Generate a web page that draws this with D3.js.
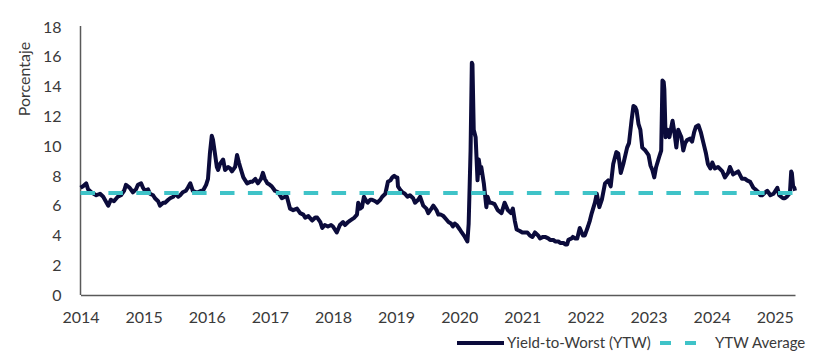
<!DOCTYPE html>
<html>
<head>
<meta charset="utf-8">
<script src="https://cdn.jsdelivr.net/npm/d3@7"></script>
<style>
  body { margin: 0; background: #fff; }
  text { font-family: Lato, "Open Sans", sans-serif; fill: #3a3a3a; }
</style>
</head>
<body>
<svg id="chart"></svg>
<script>
// fractional year of each observation
var ytwYears = [
  2014.00, 2014.04, 2014.09, 2014.12, 2014.17, 2014.25, 2014.31, 2014.36, 2014.40, 2014.44,
  2014.48, 2014.53, 2014.59, 2014.64, 2014.69, 2014.72, 2014.78, 2014.83, 2014.88, 2014.91,
  2014.96, 2014.99, 2015.02, 2015.07, 2015.10, 2015.15, 2015.18, 2015.23, 2015.26, 2015.31,
  2015.34, 2015.39, 2015.42, 2015.47, 2015.50, 2015.55, 2015.58, 2015.62, 2015.67, 2015.70,
  2015.74, 2015.78, 2015.83, 2015.86, 2015.91, 2015.94, 2015.99, 2016.02, 2016.05, 2016.08,
  2016.10, 2016.13, 2016.16, 2016.18, 2016.21, 2016.26, 2016.29, 2016.34, 2016.37, 2016.40,
  2016.45, 2016.48, 2016.51, 2016.53, 2016.58, 2016.61, 2016.64, 2016.69, 2016.72, 2016.77,
  2016.81, 2016.86, 2016.89, 2016.92, 2016.96, 2017.00, 2017.03, 2017.08, 2017.13, 2017.16,
  2017.19, 2017.24, 2017.27, 2017.32, 2017.37, 2017.43, 2017.48, 2017.53, 2017.56, 2017.61,
  2017.67, 2017.72, 2017.75, 2017.80, 2017.83, 2017.87, 2017.92, 2017.97, 2018.00, 2018.03,
  2018.06, 2018.11, 2018.16, 2018.19, 2018.24, 2018.27, 2018.34, 2018.38, 2018.40, 2018.43,
  2018.46, 2018.49, 2018.53, 2018.55, 2018.59, 2018.62, 2018.67, 2018.70, 2018.75, 2018.78,
  2018.83, 2018.87, 2018.91, 2018.94, 2018.97, 2019.00, 2019.02, 2019.03, 2019.06, 2019.10,
  2019.14, 2019.18, 2019.22, 2019.27, 2019.30, 2019.35, 2019.38, 2019.43, 2019.48, 2019.51,
  2019.56, 2019.59, 2019.64, 2019.67, 2019.71, 2019.75, 2019.79, 2019.83, 2019.87, 2019.90,
  2019.93, 2019.96, 2020.01, 2020.04, 2020.09, 2020.13, 2020.15, 2020.18, 2020.20, 2020.21,
  2020.23, 2020.26, 2020.29, 2020.31, 2020.34, 2020.35, 2020.39, 2020.43, 2020.45, 2020.48,
  2020.51, 2020.56, 2020.61, 2020.64, 2020.67, 2020.72, 2020.77, 2020.82, 2020.85, 2020.88,
  2020.91, 2020.96, 2021.00, 2021.04, 2021.08, 2021.12, 2021.16, 2021.20, 2021.25, 2021.28,
  2021.33, 2021.36, 2021.41, 2021.44, 2021.49, 2021.52, 2021.57, 2021.60, 2021.65, 2021.68,
  2021.71, 2021.73, 2021.78, 2021.80, 2021.84, 2021.87, 2021.91, 2021.96, 2021.99, 2022.04,
  2022.07, 2022.10, 2022.15, 2022.18, 2022.22, 2022.26, 2022.31, 2022.36, 2022.40, 2022.44,
  2022.49, 2022.52, 2022.56, 2022.60, 2022.66, 2022.69, 2022.73, 2022.76, 2022.79, 2022.81,
  2022.84, 2022.87, 2022.90, 2022.95, 2023.00, 2023.03, 2023.06, 2023.09, 2023.12, 2023.17,
  2023.20, 2023.22, 2023.24, 2023.25, 2023.27, 2023.30, 2023.33, 2023.38, 2023.41, 2023.44,
  2023.47, 2023.52, 2023.55, 2023.58, 2023.61, 2023.66, 2023.69, 2023.72, 2023.75, 2023.79,
  2023.83, 2023.87, 2023.91, 2023.94, 2023.98, 2024.01, 2024.05, 2024.10, 2024.17, 2024.21,
  2024.26, 2024.29, 2024.34, 2024.42, 2024.48, 2024.53, 2024.56, 2024.61, 2024.66, 2024.69,
  2024.74, 2024.77, 2024.80, 2024.85, 2024.88, 2024.93, 2024.98, 2025.01, 2025.04, 2025.07,
  2025.10, 2025.13, 2025.16, 2025.19, 2025.23, 2025.24, 2025.26, 2025.27, 2025.29, 2025.31,
  2025.32
];

// yield-to-worst, %
var ytwValues = [
  7.2, 7.3, 7.5, 7.1, 6.9, 6.7, 6.8, 6.6, 6.3, 6.0,
  6.4, 6.3, 6.6, 6.7, 7.0, 7.4, 7.2, 6.9, 7.1, 7.4,
  7.5, 7.2, 7.0, 7.1, 6.8, 6.7, 6.5, 6.3, 6.0, 6.2,
  6.2, 6.4, 6.5, 6.6, 6.8, 6.6, 6.7, 6.9, 7.0, 7.2,
  7.5, 7.0, 6.9, 6.9, 7.0, 7.0, 7.4, 7.8, 9.5, 10.7,
  10.4, 9.5, 8.6, 8.4, 8.8, 9.1, 8.4, 8.6, 8.5, 8.3,
  8.6, 9.4, 8.9, 8.6, 7.9, 7.7, 7.5, 7.6, 7.6, 7.8,
  7.5, 7.8, 8.2, 7.8, 7.5, 7.4, 7.3, 7.0, 6.9, 6.7,
  6.5, 6.6, 6.6, 5.8, 5.7, 5.8, 5.5, 5.4, 5.2, 5.3,
  5.0, 5.2, 5.2, 4.9, 4.5, 4.7, 4.6, 4.7, 4.6, 4.4,
  4.2, 4.7, 4.9, 4.7, 4.9, 5.0, 5.2, 5.4, 6.2, 5.8,
  5.9, 6.6, 6.3, 6.2, 6.4, 6.4, 6.3, 6.2, 6.4, 6.6,
  6.8, 7.6, 7.7, 7.9, 8.0, 7.9, 7.9, 7.3, 7.1, 6.9,
  6.8, 6.6, 6.7, 6.5, 6.2, 6.4, 6.6, 6.0, 5.8, 5.5,
  5.8, 6.0, 5.7, 5.4, 5.4, 5.3, 5.1, 4.9, 4.8, 4.6,
  4.8, 4.7, 4.4, 4.2, 3.9, 3.6, 4.8, 9.7, 15.6, 15.5,
  11.1, 10.6, 7.7, 9.1, 8.2, 8.6, 7.5, 5.9, 6.6, 6.2,
  6.2, 6.1, 5.7, 5.6, 5.5, 6.2, 5.7, 5.5, 5.8, 5.0,
  4.4, 4.3, 4.2, 4.2, 4.2, 4.0, 3.9, 4.2, 4.0, 3.8,
  3.9, 3.9, 3.8, 3.7, 3.7, 3.6, 3.6, 3.5, 3.5, 3.4,
  3.4, 3.7, 3.8, 3.9, 3.8, 3.8, 4.5, 4.0, 4.0, 4.6,
  5.0, 5.5, 6.2, 6.8, 5.9, 6.4, 7.5, 7.7, 7.3, 8.8,
  9.6, 9.5, 8.2, 8.8, 9.9, 10.2, 11.7, 12.7, 12.6, 12.4,
  11.5, 11.1, 9.9, 9.7, 9.4, 8.7, 8.4, 7.9, 8.6, 9.3,
  9.7, 14.4, 14.3, 13.8, 10.6, 11.1, 10.6, 11.7, 10.9, 9.9,
  11.1, 10.6, 9.7, 10.2, 10.4, 10.5, 10.3, 10.9, 11.3, 11.4,
  10.9, 10.2, 9.5, 8.8, 8.5, 8.9, 8.5, 8.6, 8.3, 7.9,
  8.2, 8.6, 8.1, 8.3, 7.8, 7.8, 7.7, 7.6, 7.2, 7.1,
  6.9, 6.7, 6.7, 6.9, 7.0, 6.7, 6.8, 7.0, 7.2, 6.7,
  6.6, 6.5, 6.5, 6.6, 6.8, 6.9, 8.3, 8.2, 7.3, 7.2,
  7.0
];

var ytwAverage = 6.85;
var yTicks = [0, 2, 4, 6, 8, 10, 12, 14, 16, 18];
var xTickYears = [2014, 2015, 2016, 2017, 2018, 2019, 2020, 2021, 2022, 2023, 2024, 2025];
var seriesNames = ["Yield-to-Worst (YTW)", "YTW Average"];

var width = 825, height = 362;
var navy = "#0b0b3b", teal = "#3fc3c8";

var svg = d3.select("#chart").attr("width", width).attr("height", height);

var x = d3.scaleLinear().domain([2014, 2025.32]).range([80.5, 795]);
var y = d3.scaleLinear().domain([0, 18]).range([295, 27]);

// y axis: line plus labels, no ticks
var yAxis = svg.append("g")
  .attr("transform", "translate(80.5,0)")
  .call(d3.axisLeft(y).tickValues(yTicks).tickSize(0).tickPadding(19));
yAxis.select(".domain").attr("stroke", "#595959").attr("stroke-width", 1.5).attr("d", "M0,26V295");
yAxis.selectAll("text").style("font-size", "16px").style("font-family", "Lato, sans-serif").attr("fill", "#3a3a3a");

// x axis
var xAxis = svg.append("g")
  .attr("transform", "translate(0,295)")
  .call(d3.axisBottom(x).tickValues(xTickYears).tickFormat(d3.format("d")).tickSize(0).tickPadding(17));
xAxis.select(".domain").attr("stroke", "#595959").attr("stroke-width", 1.5);
xAxis.selectAll("text").style("font-size", "16px").style("font-family", "Lato, sans-serif").attr("fill", "#3a3a3a");

svg.append("text")
  .attr("transform", "translate(30,79) rotate(-90)")
  .attr("text-anchor", "middle")
  .style("font-size", "16px")
  .text("Porcentaje");

var data = ytwYears.map(function (t, i) { return [t, ytwValues[i]]; });

svg.append("path")
  .datum(data)
  .attr("fill", "none")
  .attr("stroke", navy)
  .attr("stroke-width", 4)
  .attr("stroke-linejoin", "round")
  .attr("d", d3.line().x(function (d) { return x(d[0]); }).y(function (d) { return y(d[1]); }));

// average drawn on top of the series
svg.append("line")
  .attr("x1", x(2014)).attr("x2", x(2025.32))
  .attr("y1", y(ytwAverage)).attr("y2", y(ytwAverage))
  .attr("stroke", teal)
  .attr("stroke-width", 4)
  .attr("stroke-dasharray", "14.5,13.4");

// legend
var lg = svg.append("g");
lg.append("line").attr("x1", 457).attr("x2", 504).attr("y1", 343).attr("y2", 343)
  .attr("stroke", navy).attr("stroke-width", 4);
lg.append("text").attr("x", 507).attr("y", 343).attr("dy", "0.35em")
  .style("font-size", "15px").text(seriesNames[0]);
lg.append("line").attr("x1", 660).attr("x2", 697).attr("y1", 343).attr("y2", 343)
  .attr("stroke", teal).attr("stroke-width", 4).attr("stroke-dasharray", "11,14");
lg.append("text").attr("x", 715).attr("y", 343).attr("dy", "0.35em")
  .style("font-size", "15px").text(seriesNames[1]);
</script>
</body>
</html>
